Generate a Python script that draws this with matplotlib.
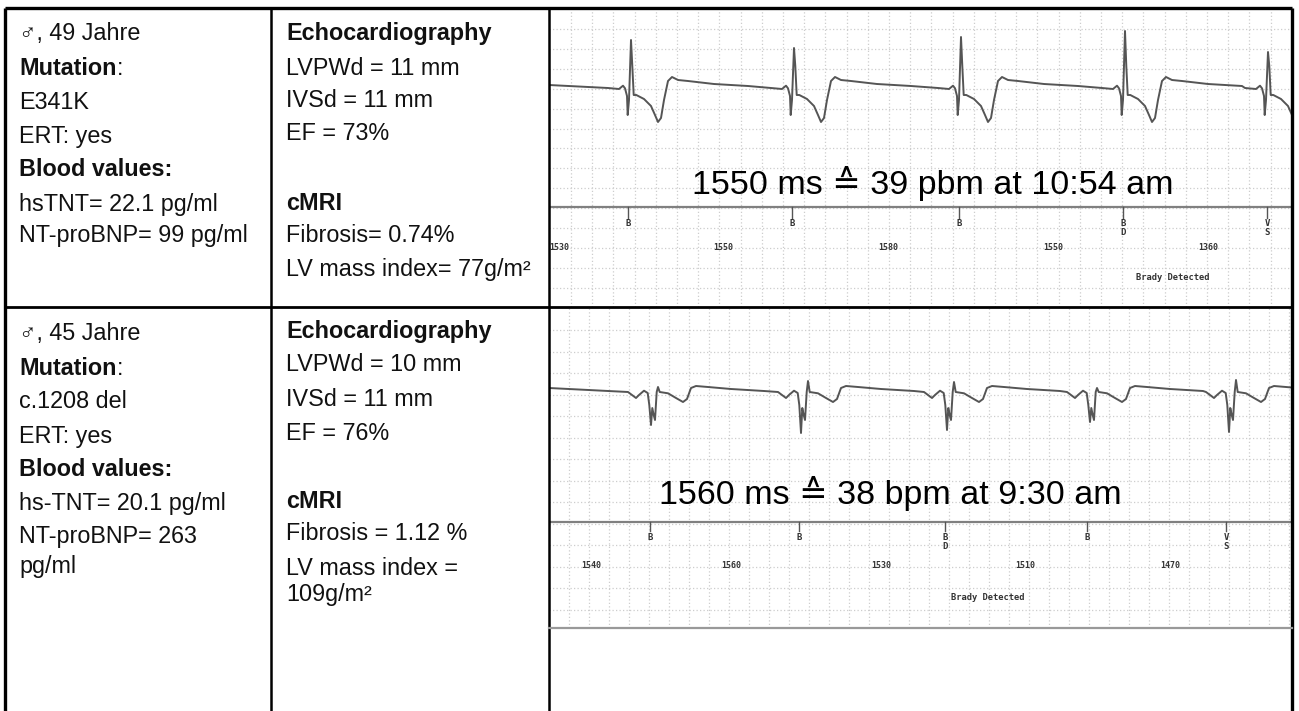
import numpy as np
import matplotlib.pyplot as plt

plt.rcParams['font.family'] = ['Liberation Sans', 'DejaVu Sans']

W, H = 1299, 711

# Table text, one list per cell, with the vertical centre of every line (px)
r1c1_text = ["♂, 49 Jahre", "Mutation", "E341K", "ERT: yes", "Blood values:",
             "hsTNT= 22.1 pg/ml", "NT-proBNP= 99 pg/ml"]
r1c1_y = [32, 67, 101, 135, 168, 203, 234]
r1c2_text = ["Echocardiography", "LVPWd = 11 mm", "IVSd = 11 mm", "EF = 73%",
             "cMRI", "Fibrosis= 0.74%", "LV mass index= 77g/m²"]
r1c2_y = [32, 67, 99, 132, 202, 234, 268]

r2c1_text = ["♂, 45 Jahre", "Mutation", "c.1208 del", "ERT: yes", "Blood values:",
             "hs-TNT= 20.1 pg/ml", "NT-proBNP= 263", "pg/ml"]
r2c1_y = [332, 367, 400, 435, 468, 502, 535, 565]
r2c2_text = ["Echocardiography", "LVPWd = 10 mm", "IVSd = 11 mm", "EF = 76%",
             "cMRI", "Fibrosis = 1.12 %", "LV mass index =", "109g/m²"]
r2c2_y = [330, 363, 398, 432, 500, 532, 567, 593]

bold_lines = ["Mutation", "Blood values:", "Echocardiography", "cMRI"]

# ECG strip 1 (upper)
ecg1_beats = [631, 794, 961, 1125, 1268]
ecg1_r = [-47, -39, -50, -56, -35]          # R peak, px from baseline
ecg1_marks = ["B", "B", "B", "B\nD", "V\nS"]
ecg1_mark_x = [628, 792, 959, 1123, 1267]
ecg1_rr = [1530, 1550, 1580, 1550, 1360]
ecg1_rr_x = [559, 723, 888, 1053, 1208]
ecg1_title = "1550 ms ≙ 39 pbm at 10:54 am"

ecg1_tpl_dx = [-23, -12, -8, -6, -4, -3.3, -2, 0, 1.3, 2.7, 5.3, 13, 20, 24, 27, 30,
               33, 37, 41, 47, 57, 83, 117]
ecg1_tpl_dy = [1, 2, -1.3, 1.3, 9, 28, 13, None, -21, 8, 8, 12, 19, 28, 35, 31,
               13, -6, -10, -7, -6, -3, -1]

# ECG strip 2 (lower)
ecg2_beats = [651, 801, 947, 1090, 1229]
ecg2_s = [33, 41, 38, 30, 40]               # main negative spike depth
ecg2_r = [-5, -11, -10, -4, -12]            # small positive spike after it
ecg2_marks = ["B", "B", "B\nD", "B", "V\nS"]
ecg2_mark_x = [650, 799, 945, 1087, 1226]
ecg2_rr = [1540, 1560, 1530, 1510, 1470]
ecg2_rr_x = [591, 731, 881, 1025, 1170]
ecg2_title = "1560 ms ≙ 38 bpm at 9:30 am"

ecg2_tpl_dx = [-23, -15, -12, -7, -3.3, -1.7, 0, 1.3, 2.7, 4, 5.7, 7, 8.7, 17, 25,
               32, 36, 40, 45, 57, 80, 113]
ecg2_tpl_dy = [0, 6, 3, -1.3, 1, 13, 'S', 16, 23, 28, 0, 'R', 0, 1.3, 6,
               10, 7, -4, -6, -5, -3, -1]


def trace1(start_y):
    xs, ys = [549], [start_y]
    for bx, r in zip(ecg1_beats, ecg1_r):
        for dx, dy in zip(ecg1_tpl_dx, ecg1_tpl_dy):
            xs.append(bx + dx)
            ys.append(r if dy is None else dy)
    return np.array(xs), np.array(ys, dtype=float)


def trace2(start_y):
    xs, ys = [549], [start_y]
    for bx, s, r in zip(ecg2_beats, ecg2_s, ecg2_r):
        for dx, dy in zip(ecg2_tpl_dx, ecg2_tpl_dy):
            xs.append(bx + dx)
            ys.append(s if dy == 'S' else (r if dy == 'R' else dy))
    return np.array(xs), np.array(ys, dtype=float)


fig = plt.figure(figsize=(W / 100, H / 100), dpi=100)
fig.patch.set_facecolor('white')


def strip(top, bottom, hx0, hstep, vx0, vstep):
    ax = fig.add_axes([549 / W, 1 - bottom / H, (1292 - 549) / W, (bottom - top) / H])
    ax.set_xlim(549, 1292)
    ax.set_ylim(bottom, top)
    ax.set_xticks(np.arange(vx0, 1292, vstep))
    ax.set_yticks(np.arange(hx0, bottom, hstep))
    ax.tick_params(length=0, labelbottom=False, labelleft=False)
    ax.grid(True, ls=(0, (1, 1.8)), color='#cdcdcd', lw=0.9)
    for s in ax.spines.values():
        s.set_visible(False)
    return ax


mono = dict(family='DejaVu Sans Mono', weight='bold', color='#333333')

# upper strip
ax1 = strip(8, 307, 29, 19.9, 571, 21.2)
base1 = 87
x, y = trace1(-2)
ax1.plot(x, base1 + y, color='#555555', lw=1.4, solid_joinstyle='round')
ax1.axhline(207, color='#808080', lw=1.6)
ax1.text(933, 194, ecg1_title, fontsize=24.5, ha='center', va='baseline', color='black')
for mx, lab in zip(ecg1_mark_x, ecg1_marks):
    ax1.plot([mx, mx], [207, 218], color='#555555', lw=1)
    ax1.text(mx, 219, lab, fontsize=6.5, ha='center', va='top', linespacing=1.05, **mono)
for rx, v in zip(ecg1_rr_x, ecg1_rr):
    ax1.text(rx, 247, str(v), fontsize=6, ha='center', va='center', **mono)
ax1.text(1173, 277, "Brady Detected", fontsize=6.3, ha='center', va='center', **mono)

# lower strip
ax2 = strip(307, 628, 330, 21.5, 569, 20)
base2 = 392
x, y = trace2(-4)
ax2.plot(x, base2 + y, color='#555555', lw=1.4, solid_joinstyle='round')
ax2.axhline(522, color='#808080', lw=1.6)
ax2.text(890, 504, ecg2_title, fontsize=24.5, ha='center', va='baseline', color='black')
for mx, lab in zip(ecg2_mark_x, ecg2_marks):
    ax2.plot([mx, mx], [522, 531], color='#555555', lw=1)
    ax2.text(mx, 533, lab, fontsize=6.5, ha='center', va='top', linespacing=1.05, **mono)
for rx, v in zip(ecg2_rr_x, ecg2_rr):
    ax2.text(rx, 565, str(v), fontsize=6, ha='center', va='center', **mono)
ax2.text(988, 597, "Brady Detected", fontsize=6.3, ha='center', va='center', **mono)

# table overlay
ax = fig.add_axes([0, 0, 1, 1], zorder=5)
ax.set_xlim(0, W)
ax.set_ylim(H, 0)
ax.axis('off')
ax.patch.set_alpha(0)

lk = dict(color='black', solid_capstyle='butt')
ax.plot([5, 1292], [8, 8], lw=2.4, **lk)
ax.plot([5, 1292], [307, 307], lw=2.0, **lk)
ax.plot([5, 5], [8, H], lw=2.4, **lk)
ax.plot([271, 271], [8, H], lw=1.8, **lk)
ax.plot([549, 549], [8, H], lw=1.8, **lk)
ax.plot([1292, 1292], [8, H], lw=2.4, **lk)
ax.plot([549, 1292], [628, 628], lw=1.6, color='#999999')

renderer = fig.canvas.get_renderer()


def cell(x0, lines, ys):
    for s, yc in zip(lines, ys):
        w = 'bold' if s in bold_lines else 'normal'
        t = ax.text(x0, yc + 8, s, fontsize=16.8, fontweight=w, va='baseline',
                    ha='left', color='#111111')
        if s == "Mutation":
            bb = t.get_window_extent(renderer)
            xe = ax.transData.inverted().transform((bb.x1, bb.y0))[0]
            ax.text(xe, yc + 8, ":", fontsize=16.8, va='baseline', ha='left',
                    color='#111111')


cell(19, r1c1_text, r1c1_y)
cell(286, r1c2_text, r1c2_y)
cell(19, r2c1_text, r2c1_y)
cell(286, r2c2_text, r2c2_y)

fig.savefig("out.png", dpi=100, facecolor='white')
